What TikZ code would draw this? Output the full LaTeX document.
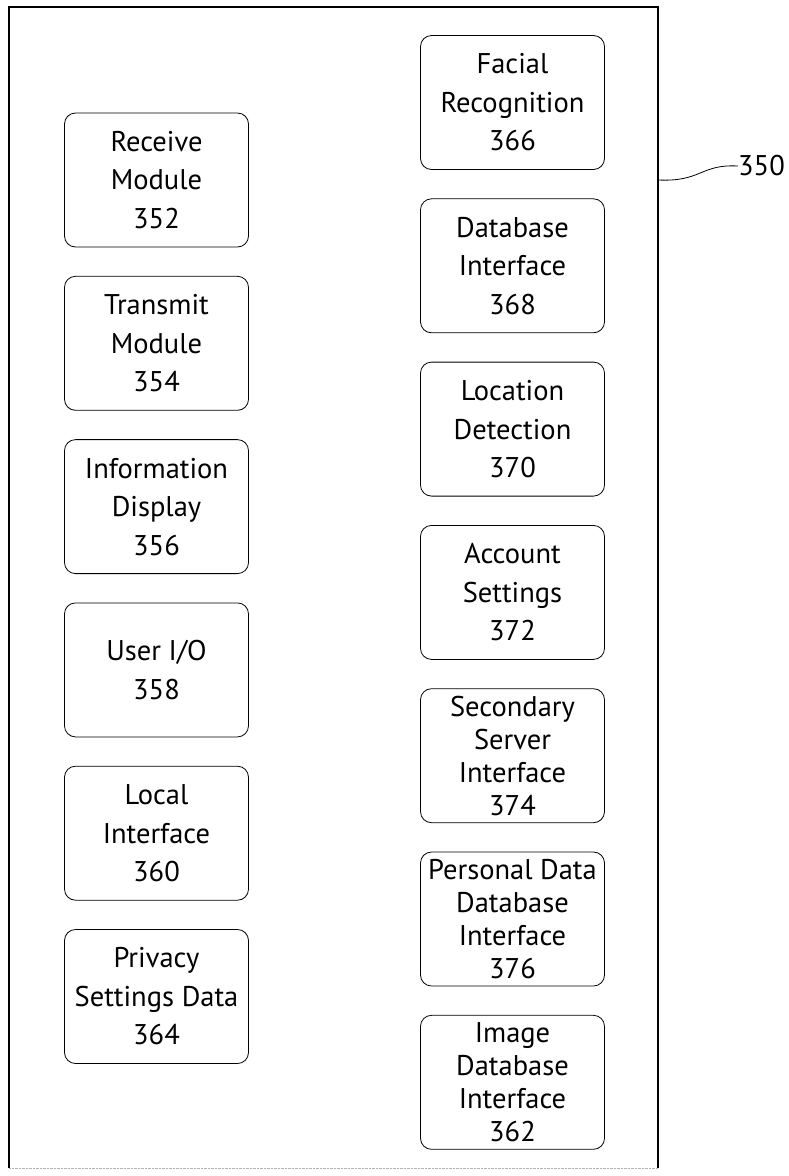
\documentclass[tikz,border=0pt]{standalone}
\usepackage{fontspec}
\setmainfont{PT Sans}
\usetikzlibrary{positioning}
\tikzset{
  modbox/.style={draw,thick,rounded corners=11pt,minimum width=184pt,
    minimum height=134pt,align=center,inner sep=0pt,
    font=\fontsize{28.5}{38.5}\selectfont},
  quadbox/.style={modbox,font=\fontsize{28.5}{33}\selectfont},
}
\begin{document}
\begin{tikzpicture}[x=1pt,y=-1pt,node distance=28.5pt]
\useasboundingbox (0,0) rectangle (789,1176);
% outer frame
\draw[line width=1.6pt] (9,1168) -- (9,7) -- (658,7) -- (658,1168);
\draw[gray!60,densely dotted] (9,1168) -- (658,1168);
% left column
\node[modbox] (recv) at (156.5,180) {Receive\\Module\\352};
\node[modbox,below=of recv] (xmit) {Transmit\\Module\\354};
\node[modbox,below=of xmit] (disp) {Information\\Display\\356};
\node[modbox,below=of disp] (uio) {User I/O\\358};
\node[modbox,below=of uio] (local) {Local\\Interface\\360};
\node[modbox,below=of local] (priv) {Privacy\\Settings Data\\364};
% right column
\node[modbox] (face) at (512.5,102.5) {Facial\\Recognition\\366};
\node[modbox,below=of face] (dbif) {Database\\Interface\\368};
\node[modbox,below=of dbif] (loc) {Location\\Detection\\370};
\node[modbox,below=of loc] (acct) {Account\\Settings\\372};
\node[quadbox,below=of acct] (sec) {Secondary\\Server\\Interface\\374};
\node[quadbox,below=of sec] (pers) {Personal Data\\Database\\Interface\\376};
\node[quadbox,below=of pers] (img) {Image\\Database\\Interface\\362};
% reference label
\coordinate (tap) at (658,180);
\node[font=\fontsize{28.5}{34}\selectfont,anchor=west,inner sep=0pt] (lbl) at (738,166) {350};
\draw[thick] (tap) .. controls (702,182) and (700,164) .. (lbl.west);
\end{tikzpicture}
\end{document}
